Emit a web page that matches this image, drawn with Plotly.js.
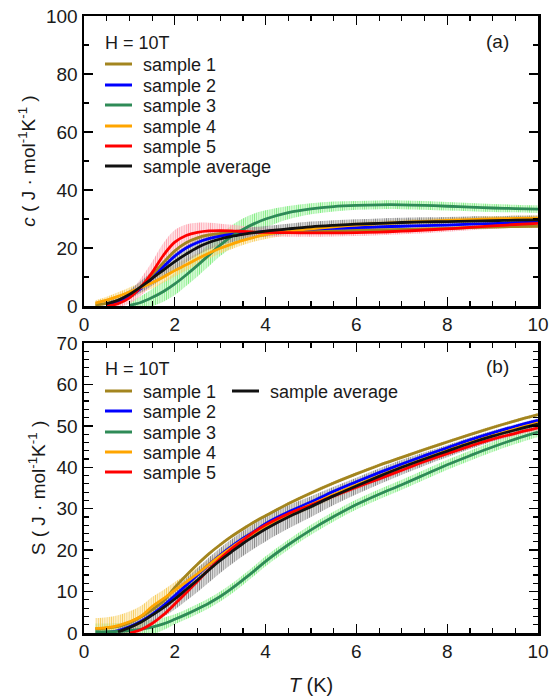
<!DOCTYPE html>
<html><head><meta charset="utf-8">
<script src="https://cdn.plot.ly/plotly-3.0.1.min.js"></script>
<style>html,body{margin:0;padding:0;background:#fff}</style>
</head><body><div id="chart" style="width:554px;height:696px"></div>
<script>
// Temperature grid (K)
const T = [0.25,0.5,0.75,1,1.25,1.5,1.75,2,2.25,2.5,2.75,3,3.25,3.5,3.75,4,4.5,5,5.5,6,6.5,7,7.5,8,8.5,9,9.5,10];
const seriesNames = ["sample 1","sample 2","sample 3","sample 4","sample 5","sample average"];

// (a) specific heat c (J/mol/K)
const c_s1  = [0.4,0.9,2.0,3.8,6.6,10.5,15.0,19.0,21.8,23.5,24.5,25.0,25.3,25.4,25.5,25.5,25.6,25.8,25.9,26.1,26.3,26.4,26.6,26.8,27.0,27.2,27.4,27.5];
const c_s2  = [null,0.5,1.6,3.4,6.0,9.5,13.5,17.2,20.0,21.9,23.2,24.1,24.7,25.1,25.4,25.7,26.1,26.5,26.8,27.0,27.3,27.5,27.7,27.9,28.2,28.4,28.7,28.9];
const c_s3  = [null,null,null,0.2,1.2,2.9,5.0,7.6,10.7,14.0,17.5,21.0,24.0,26.4,28.4,30.0,32.2,33.5,34.3,34.7,34.9,34.9,34.7,34.4,34.1,33.8,33.6,33.4];
const c_s4  = [1.0,2.0,3.3,4.8,6.3,8.0,10.0,12.2,14.2,16.3,18.2,19.9,21.3,22.6,23.7,24.6,25.8,26.6,27.3,27.9,28.4,28.8,29.2,29.5,29.8,30.0,30.2,30.3];
const c_s5  = [null,0,0.8,2.8,6.5,11.5,17.5,22.0,24.3,25.4,25.9,26.0,25.9,25.7,25.5,25.4,25.3,25.2,25.2,25.3,25.5,25.8,26.2,26.6,27.1,27.6,28.1,28.5];
const c_avg = [null,0.8,2.0,4.0,6.6,9.5,12.4,15.3,17.9,20.2,21.9,23.1,24.0,24.7,25.3,25.8,26.6,27.3,27.8,28.2,28.5,28.8,29.0,29.1,29.3,29.4,29.6,29.7];

// (a) error bars (half-widths)
const cErr_s1  = [0.5,0.5,0.5,0.5,0.5,0.5,0.5,0.5,0.5,0.5,0.5,0.5,0.5,0.5,0.5,0.5,0.5,0.5,0.5,0.5,0.5,0.5,0.5,0.5,0.5,0.5,0.5,0.5];
const cErr_s2  = [0.6,0.6,0.6,0.6,0.6,0.6,0.6,0.6,0.6,0.6,0.6,0.6,0.6,0.6,0.6,0.6,0.6,0.6,0.6,0.6,0.6,0.6,0.6,0.6,0.6,0.6,0.6,0.6];
const cErr_s3  = [1.5,1.5,1.5,1.5,2.2,3.0,3.5,3.8,3.8,3.8,3.8,3.8,3.8,3.8,3.5,3.0,2.3,1.9,1.7,1.5,1.5,1.5,1.5,1.5,1.4,1.4,1.3,1.3];
const cErr_s4  = [1.0,1.2,1.4,1.6,1.8,2.0,2.0,2.0,2.0,1.9,1.8,1.8,1.7,1.6,1.5,1.5,1.3,1.2,1.1,1.1,1.0,1.0,1.0,1.0,1.0,1.0,1.0,1.0];
const cErr_s5  = [0.8,0.8,1.2,2.0,3.0,3.8,4.2,4.2,3.8,3.3,2.8,2.4,2.1,1.9,1.7,1.5,1.4,1.3,1.2,1.2,1.1,1.1,1.1,1.0,1.0,1.0,1.0,1.0];
const cErr_avg = [1.0,1.0,1.2,1.5,2.0,2.5,2.8,3.0,2.9,2.7,2.4,2.2,2.0,1.9,1.9,1.8,1.8,1.8,1.8,1.7,1.7,1.6,1.6,1.6,1.6,1.5,1.5,1.5];

// (b) entropy S (J/mol/K)
const S_s1  = [1.0,1.2,1.6,2.5,3.9,5.6,7.7,11.0,13.9,16.6,19.1,21.3,23.3,25.1,26.8,28.3,31.2,33.8,36.2,38.4,40.5,42.4,44.3,46.1,47.9,49.6,51.2,52.7];
const S_s2  = [null,0.1,0.6,1.5,2.8,4.5,6.6,9.0,11.5,14.0,16.5,18.8,20.9,22.8,24.5,26.4,29.2,31.6,34.2,36.5,38.7,40.8,42.8,44.7,46.6,48.3,49.9,51.3];
const S_s3  = [0.3,0.3,0.4,0.6,0.9,1.4,2.2,3.3,4.5,5.8,7.2,8.8,10.7,12.8,15.0,17.3,21.3,24.9,28.1,31.0,33.5,35.8,38.2,40.6,42.8,44.9,46.8,48.5];
const S_s4  = [1.1,1.3,1.8,2.7,4.0,6.4,8.3,10.3,12.3,14.3,16.5,18.6,20.6,22.5,24.2,25.8,28.6,31.0,33.4,35.7,37.9,40.0,42.0,44.0,45.9,47.6,49.2,50.7];
const S_s5  = [null,null,null,0,0.8,2.3,4.4,7.0,9.7,12.5,15.3,17.9,20.3,22.4,24.4,26.1,28.8,30.9,33.1,35.2,37.2,39.3,41.4,43.3,45.1,46.8,48.2,49.5];
const S_avg = [null,null,0.3,1.3,2.6,4.3,6.1,8.2,10.5,12.8,15.2,17.5,19.6,21.6,23.4,25.1,28.0,30.5,33.1,35.5,37.8,40.0,42.0,43.9,45.8,47.5,49.0,50.4];

// (b) error bars (half-widths)
const SErr_s1  = [0.4,0.4,0.4,0.4,0.4,0.4,0.4,0.4,0.4,0.4,0.4,0.4,0.4,0.4,0.4,0.4,0.4,0.4,0.4,0.4,0.4,0.4,0.4,0.4,0.4,0.4,0.4,0.4];
const SErr_s2  = [0.5,0.5,0.5,0.5,0.5,0.5,0.5,0.5,0.5,0.5,0.5,0.5,0.5,0.5,0.5,0.5,0.5,0.5,0.5,0.5,0.5,0.5,0.5,0.5,0.5,0.5,0.5,0.5];
const SErr_s3  = [2.0,2.0,2.0,2.0,2.0,1.8,1.5,1.2,1.2,1.2,1.2,1.2,1.2,1.2,1.2,1.2,1.2,1.2,1.2,1.2,1.2,1.2,1.2,1.2,1.2,1.2,1.2,1.2];
const SErr_s4  = [2.5,2.5,2.5,2.5,2.5,2.3,2.1,2.0,1.8,1.5,1.2,1.0,1.0,1.0,1.0,1.0,1.0,1.0,1.0,1.0,1.0,1.0,1.0,1.0,1.0,1.0,1.0,1.0];
const SErr_s5  = [0.6,0.6,0.6,0.6,0.6,0.6,0.6,0.6,0.6,0.6,0.6,0.6,0.6,0.6,0.6,0.6,0.6,0.6,0.6,0.6,0.6,0.6,0.6,0.6,0.6,0.6,0.6,0.6];
const SErr_avg = [1.0,1.0,1.0,1.5,1.8,2.0,2.2,2.5,2.7,2.9,3.0,3.0,3.0,3.0,3.0,3.0,2.8,2.5,2.2,2.0,1.9,1.8,1.6,1.5,1.4,1.3,1.2,1.2];

const lineColors  = ["#a3851f","#0000ff","#2e8b57","#ffa500","#ff0000","#111111"];
const hatchColors = ["#d4c07a","#8799ff","#86ee86","#f7cf63","#ffa3b0","#8a8a8a"];

const cVals = [c_s1,c_s2,c_s3,c_s4,c_s5,c_avg];
const cErrs = [cErr_s1,cErr_s2,cErr_s3,cErr_s4,cErr_s5,cErr_avg];
const SVals = [S_s1,S_s2,S_s3,S_s4,S_s5,S_avg];
const SErrs = [SErr_s1,SErr_s2,SErr_s3,SErr_s4,SErr_s5,SErr_avg];

function bands(vals, errs, xa, ya){
  const out = [];
  vals.forEach((v,k)=>{
    const lo = v.map((y,i)=> y==null?null: y-errs[k][i]);
    const hi = v.map((y,i)=> y==null?null: y+errs[k][i]);
    out.push({x:T,y:lo,xaxis:xa,yaxis:ya,mode:'lines',line:{width:0,shape:'spline',color:hatchColors[k]},
      showlegend:false,hoverinfo:'skip'});
    out.push({x:T,y:hi,xaxis:xa,yaxis:ya,mode:'lines',line:{width:0,shape:'spline',color:hatchColors[k]},
      fill:'tonexty',fillcolor:'rgba(0,0,0,0)',
      fillpattern:{shape:'|',fgcolor:hatchColors[k],bgcolor:'rgba(255,255,255,0)',size:2.2,solidity:0.55},
      showlegend:false,hoverinfo:'skip'});
  });
  return out;
}
function lines(vals, xa, ya){
  return vals.map((v,k)=>({x:T,y:v,xaxis:xa,yaxis:ya,mode:'lines',name:seriesNames[k],
    line:{color:lineColors[k],width:2.8,shape:'spline'},showlegend:false}));
}

const data = [].concat(bands(cVals,cErrs,'x','y'), lines(cVals,'x','y'),
                       bands(SVals,SErrs,'x2','y2'), lines(SVals,'x2','y2'));

const FONT = "Liberation Sans, Arial, sans-serif";
const W = 554, H = 696;
const px = v => v/W, py = v => (H-v)/H;

function axisBase(){
  return {showline:true,linewidth:2.5,linecolor:'#000',mirror:'ticks',ticks:'inside',ticklen:9,tickwidth:1.3,
    tickcolor:'#000',showgrid:false,zeroline:false,tickfont:{family:FONT,size:19,color:'#1a1a1a'}};
}
const xdom = [px(84), px(538)];
const layout = {
  width:W,height:H,margin:{l:0,r:0,t:0,b:0},paper_bgcolor:'#fff',plot_bgcolor:'#fff',
  font:{family:FONT,color:'#1a1a1a'},showlegend:false,
  xaxis:Object.assign(axisBase(),{domain:xdom,anchor:'y',range:[0,10],dtick:2,tick0:0,
    minor:{dtick:0.5,ticks:'inside',ticklen:5,tickwidth:1.2,tickcolor:'#000'}}),
  yaxis:Object.assign(axisBase(),{domain:[py(306),py(16)],anchor:'x',range:[0,100],dtick:20,tick0:0,
    minor:{dtick:10,ticks:'inside',ticklen:5,tickwidth:1.2,tickcolor:'#000'},
    title:{text:'<i>c</i> ( J · mol<sup>-1</sup>K<sup>-1</sup> )',font:{family:FONT,size:19,color:'#1a1a1a'},standoff:6}}),
  xaxis2:Object.assign(axisBase(),{domain:xdom,anchor:'y2',range:[0,10],dtick:2,tick0:0,
    minor:{dtick:0.5,ticks:'inside',ticklen:5,tickwidth:1.2,tickcolor:'#000'},
    title:{text:'<i>T</i> (K)',font:{family:FONT,size:20,color:'#1a1a1a'},standoff:17}}),
  yaxis2:Object.assign(axisBase(),{domain:[py(633),py(343)],anchor:'x2',range:[0,70],dtick:10,tick0:0,
    minor:{dtick:2,ticks:'inside',ticklen:5,tickwidth:1.2,tickcolor:'#000'},
    title:{text:'S ( J · mol<sup>-1</sup>K<sup>-1</sup> )',font:{family:FONT,size:19,color:'#1a1a1a'},standoff:6}}),
  annotations:[],shapes:[]
};

function addText(text,x,y,size,anchor){
  layout.annotations.push({text:text,x:px(x),y:py(y),xref:'paper',yref:'paper',showarrow:false,
    xanchor:anchor||'left',yanchor:'middle',font:{family:FONT,size:size,color:'#1a1a1a'}});
}
function addKey(k,x0,x1,y){
  layout.shapes.push({type:'line',xref:'paper',yref:'paper',x0:px(x0),x1:px(x1),y0:py(y),y1:py(y),
    line:{color:lineColors[k],width:3}});
}
// legend (a)
addText('H = 10T',103,43,18);
addText('(a)',497,41,19,'center');
const rowsA = [64,85,105,126,146,166];
seriesNames.forEach((n,k)=>{ addKey(k,105,132,rowsA[k]); addText(n,141,rowsA[k]+1,18); });
// legend (b)
addText('H = 10T',103,369,18);
addText('(b)',497,366,19,'center');
const rowsB = [391,411,432,452,472];
for(let k=0;k<5;k++){ addKey(k,105,132,rowsB[k]); addText(seriesNames[k],141,rowsB[k]+1,18); }
addKey(5,232,259,391); addText(seriesNames[5],268,392,18);

Plotly.newPlot('chart',data,layout,{staticPlot:true,displayModeBar:false});
</script></body></html>
